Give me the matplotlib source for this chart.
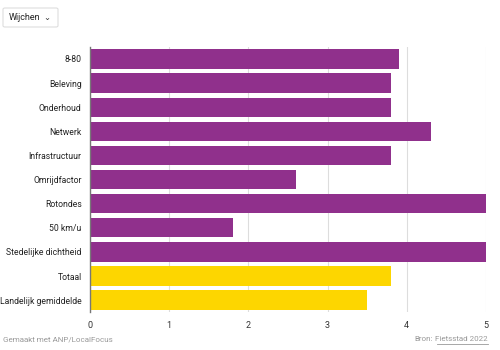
import matplotlib.pyplot as plt
from matplotlib.patches import FancyBboxPatch

plt.rcParams['font.family'] = ['Roboto', 'DejaVu Sans']

# ----------------------------------------------------------------------
# Data
# ----------------------------------------------------------------------
categories = ["8-80", "Beleving", "Onderhoud", "Netwerk", "Infrastructuur",
              "Omrijdfactor", "Rotondes", "50 km/u", "Stedelijke dichtheid",
              "Totaal", "Landelijk gemiddelde"]
scores = [3.9, 3.8, 3.8, 4.3, 3.8, 2.6, 5.0, 1.8, 5.0, 3.8, 3.5]
highlight = ["Totaal", "Landelijk gemiddelde"]

PURPLE = "#90308c"
YELLOW = "#fdd600"

fig = plt.figure(figsize=(5, 3.5), dpi=100)
ax = fig.add_axes([0.18, 0.108, 0.792, 0.758])

colors = [YELLOW if c in highlight else PURPLE for c in categories]
y = list(range(len(categories)))
ax.barh(y, scores, height=0.8, color=colors, zorder=3)

ax.set_xlim(0, 5)
ax.set_ylim(len(categories) - 0.5, -0.5)
ax.set_yticks(y)
ax.set_yticklabels(categories, fontsize=6.2, color="#222222")
ax.set_xticks([0, 1, 2, 3, 4, 5])
ax.tick_params(axis="x", length=0, labelsize=6.5, labelcolor="#333333", pad=6)
ax.tick_params(axis="y", length=0, pad=6)
ax.grid(axis="x", color="#dddddd", linewidth=0.8, zorder=0)
for s in ["top", "right", "bottom"]:
    ax.spines[s].set_visible(False)
ax.spines["left"].set_color("#777777")
ax.spines["left"].set_linewidth(1.0)
ax.spines["left"].set_zorder(4)

# dropdown
box = FancyBboxPatch((3 / 500, 1 - 27 / 350), 55 / 500, 19 / 350,
                     boxstyle="round,pad=0,rounding_size=0.004",
                     transform=fig.transFigure, facecolor="white",
                     edgecolor="#dddddd", linewidth=0.8)
fig.patches.append(box)
fig.text(9 / 500, 1 - 17.5 / 350, "Wijchen", fontsize=6.5, va="center", color="#222222")
fig.text(47 / 500, 1 - 17 / 350, "⌄", fontsize=6, va="center", ha="center",
         color="#333333", family=["DejaVu Sans"])

# footer
fig.text(3 / 500, 1 - 339 / 350, "Gemaakt met ANP/LocalFocus", fontsize=5.8,
         va="center", color="#999999")
fig.text(488 / 500, 1 - 339 / 350, "Fietsstad 2022", fontsize=5.8,
         va="center", ha="right", color="#999999")
fig.text(433 / 500, 1 - 339 / 350, "Bron:", fontsize=5.8, va="center",
         ha="right", color="#999999")
fig.add_artist(plt.Line2D([437 / 500, 488 / 500], [1 - 344 / 350, 1 - 344 / 350],
                          transform=fig.transFigure, color="#999999", linewidth=0.6))

fig.savefig("out.png", dpi=100)
